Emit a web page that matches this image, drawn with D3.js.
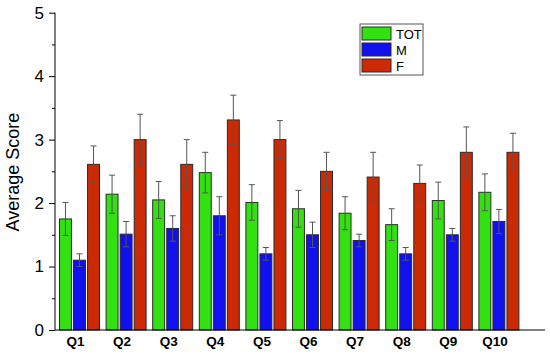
<!DOCTYPE html>
<html>
<head>
<meta charset="utf-8">
<script src="https://cdn.jsdelivr.net/npm/d3@7.9.0/dist/d3.min.js"></script>
<style>
  body { margin: 0; background: #fff; }
  svg { font-family: Arial, "Liberation Sans", sans-serif; }
</style>
</head>
<body>
<div id="chart"></div>
<script>
const questions = ['Q1', 'Q2', 'Q3', 'Q4', 'Q5', 'Q6', 'Q7', 'Q8', 'Q9', 'Q10'];
const groups = ['TOT', 'M', 'F'];

const totMean = [1.75, 2.14, 2.05, 2.48, 2.01, 1.91, 1.84, 1.66, 2.04, 2.17];
const totErr  = [0.26, 0.30, 0.29, 0.32, 0.28, 0.29, 0.26, 0.25, 0.29, 0.29];
const mMean   = [1.10, 1.51, 1.60, 1.80, 1.20, 1.50, 1.41, 1.20, 1.50, 1.71];
const mErr    = [0.10, 0.20, 0.20, 0.30, 0.10, 0.20, 0.10, 0.10, 0.10, 0.19];
const fMean   = [2.61, 3.00, 2.61, 3.31, 3.00, 2.50, 2.41, 2.31, 2.80, 2.80];
const fErr    = [0.29, 0.40, 0.39, 0.39, 0.30, 0.30, 0.39, 0.29, 0.40, 0.30];

const colors = { TOT: '#33e011', M: '#1111f0', F: '#cc2a05' };
const yTicks = [0, 1, 2, 3, 4, 5];

const width = 550, height = 354;
const svg = d3.select('#chart').append('svg')
  .attr('width', width).attr('height', height);

const x = d3.scaleBand().domain(questions).range([56.2, 522.2]);
const x1 = d3.scaleBand().domain(groups).range([-20, 20]).paddingInner(0.15);
const y = d3.scaleLinear().domain([0, 5]).range([330, 12.7]);

const rows = questions.flatMap((q, i) => [
  { q, g: 'TOT', v: totMean[i], e: totErr[i] },
  { q, g: 'M', v: mMean[i], e: mErr[i] },
  { q, g: 'F', v: fMean[i], e: fErr[i] },
]);

const cx = d => x(d.q) + x.bandwidth() / 2 + x1(d.g);
const mid = d => cx(d) + x1.bandwidth() / 2;

// upper error bars, behind the bars
const err = svg.append('g').attr('stroke', '#555').attr('stroke-width', 1);
err.selectAll('line.v').data(rows).join('line')
  .attr('class', 'v')
  .attr('x1', mid).attr('x2', mid)
  .attr('y1', d => y(d.v))
  .attr('y2', d => y(d.v + d.e));
err.selectAll('line.cap').data(rows).join('line')
  .attr('class', 'cap')
  .attr('x1', d => mid(d) - 3)
  .attr('x2', d => mid(d) + 3)
  .attr('y1', d => y(d.v + d.e))
  .attr('y2', d => y(d.v + d.e));

svg.append('g').selectAll('rect').data(rows).join('rect')
  .attr('x', d => cx(d))
  .attr('y', d => y(d.v))
  .attr('width', x1.bandwidth())
  .attr('height', d => y(0) - y(d.v))
  .attr('fill', d => colors[d.g])
  .attr('stroke', '#2a2a2a')
  .attr('stroke-width', 1);

// lower half of error bars over the bars
const err2 = svg.append('g').attr('stroke', '#555').attr('stroke-width', 1);
err2.selectAll('line.v').data(rows).join('line')
  .attr('class', 'v')
  .attr('x1', mid).attr('x2', mid)
  .attr('y1', d => y(d.v - d.e))
  .attr('y2', d => y(d.v));
err2.selectAll('line.cap').data(rows).join('line')
  .attr('class', 'cap')
  .attr('x1', d => mid(d) - 3)
  .attr('x2', d => mid(d) + 3)
  .attr('y1', d => y(d.v - d.e))
  .attr('y2', d => y(d.v - d.e));

// y axis with minor ticks
const yMinor = svg.append('g').attr('transform', 'translate(55,0)')
  .call(d3.axisLeft(y).tickValues(d3.range(0.5, 5, 1)).tickSize(3).tickFormat(''));
yMinor.select('.domain').remove();
const yMajor = svg.append('g').attr('transform', 'translate(55,0)')
  .call(d3.axisLeft(y).tickValues(yTicks).tickSize(6).tickPadding(5).tickFormat(d3.format('d')));
yMajor.selectAll('text').attr('font-size', 17).attr('fill', '#000')
  .attr('font-family', 'Arial, "Liberation Sans", sans-serif');
yMajor.select('.domain').attr('d', `M0,${y(0)}V${y(5)}`);
svg.selectAll('.tick line').attr('stroke', '#000');

// x axis line and labels
svg.append('line')
  .attr('x1', 55).attr('x2', 545)
  .attr('y1', y(0)).attr('y2', y(0))
  .attr('stroke', '#000').attr('stroke-width', 1.2);
svg.append('g').selectAll('text').data(questions).join('text')
  .attr('x', d => x(d) + x.bandwidth() / 2 - 4)
  .attr('y', 346)
  .attr('text-anchor', 'middle')
  .attr('font-size', 13.5)
  .attr('font-weight', 'bold')
  .text(d => d);

svg.append('text')
  .attr('transform', 'translate(19,172) rotate(-90)')
  .attr('text-anchor', 'middle')
  .attr('font-size', 18)
  .text('Average Score');

// legend
const legend = svg.append('g').attr('transform', 'translate(360,24)');
legend.append('rect')
  .attr('width', 63).attr('height', 51)
  .attr('fill', '#fff').attr('stroke', '#555');
groups.forEach((g, i) => {
  legend.append('rect')
    .attr('x', 2).attr('y', 3 + i * 16)
    .attr('width', 29).attr('height', 13)
    .attr('fill', colors[g]).attr('stroke', '#2a2a2a');
  legend.append('text')
    .attr('x', 36).attr('y', 14.5 + i * 16)
    .attr('font-size', 13)
    .text(g);
});
</script>
</body>
</html>
